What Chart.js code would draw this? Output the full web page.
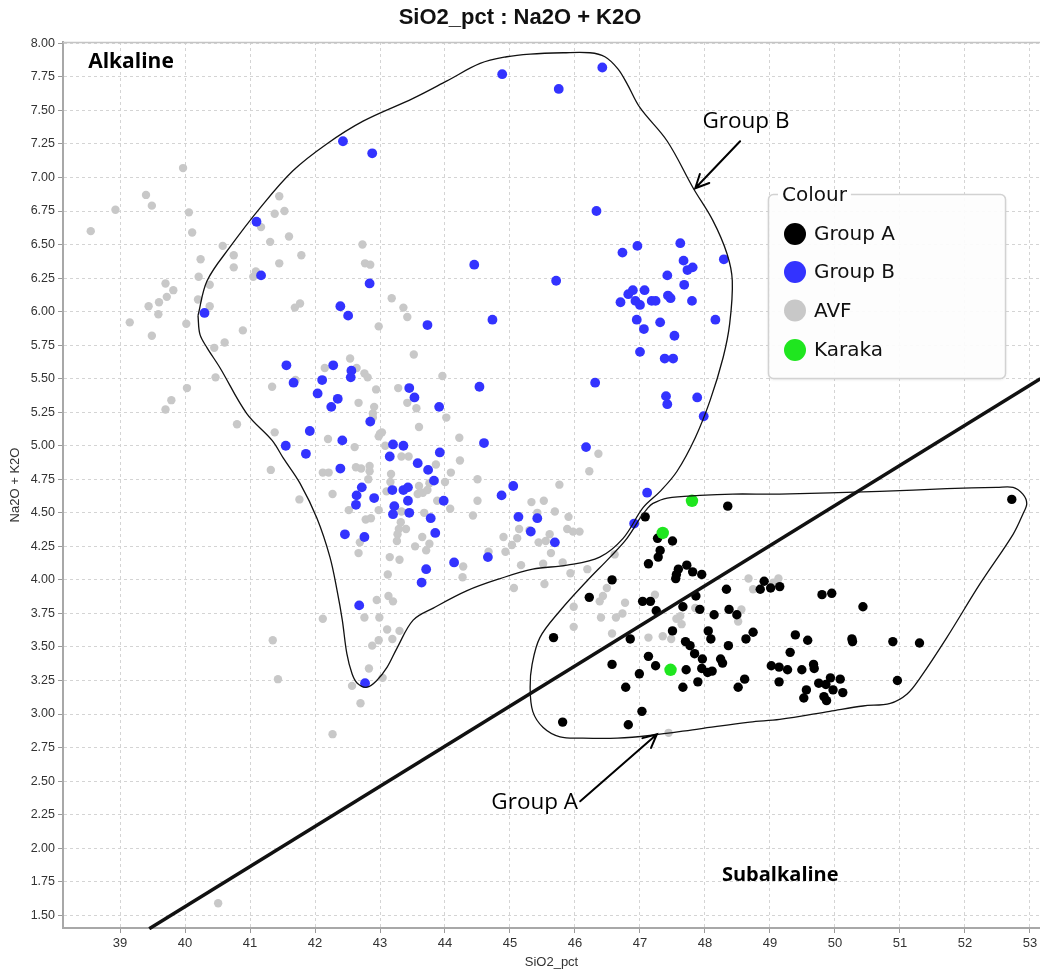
<!DOCTYPE html>
<html><head><meta charset="utf-8">
<script src="https://cdn.jsdelivr.net/npm/chart.js@4.4.1/dist/chart.umd.min.js"></script>
<style>html,body{margin:0;padding:0;background:#fff;}#wrap{width:1040px;height:971px;}</style>
</head><body><div id="wrap"><canvas id="c" width="1040" height="971"></canvas></div>
<script>
// ---- tick labels ----
const xTicks = [39,40,41,42,43,44,45,46,47,48,49,50,51,52,53];
const xTickLabels = ['39','40','41','42','43','44','45','46','47','48','49','50','51','52','53'];
const yTicks = [1.5,1.75,2,2.25,2.5,2.75,3,3.25,3.5,3.75,4,4.25,4.5,4.75,5,5.25,5.5,5.75,6,6.25,6.5,6.75,7,7.25,7.5,7.75,8];
const yTickLabels = ['1.50','1.75','2.00','2.25','2.50','2.75','3.00','3.25','3.50','3.75','4.00','4.25','4.50','4.75','5.00','5.25','5.50','5.75','6.00','6.25','6.50','6.75','7.00','7.25','7.50','7.75','8.00'];

// ---- series: [SiO2_pct, Na2O + K2O] ----
const groupA = [[48.35,4.55],[47.08,4.47],[47.27,4.31],[47.50,4.29],[47.31,4.22],[47.28,4.17],[47.13,4.12],[47.72,4.11],[47.59,4.08],[47.56,4.04],[47.55,4.01],[47.81,4.06],[47.95,4.04],[46.57,4.00],[48.33,3.93],[47.86,3.88],[46.22,3.87],[47.04,3.84],[47.16,3.84],[47.66,3.80],[47.25,3.77],[47.92,3.78],[48.14,3.74],[48.37,3.78],[48.49,3.74],[48.91,3.99],[48.85,3.93],[49.01,3.94],[49.15,3.95],[45.67,3.57],[46.85,3.56],[47.50,3.62],[48.05,3.62],[48.09,3.56],[47.70,3.54],[47.77,3.51],[47.84,3.45],[48.36,3.51],[48.63,3.56],[48.74,3.61],[49.39,3.59],[49.31,3.46],[47.13,3.43],[47.24,3.36],[46.57,3.37],[46.99,3.30],[47.71,3.33],[47.96,3.41],[47.95,3.34],[48.04,3.31],[48.11,3.32],[48.24,3.41],[48.27,3.38],[49.02,3.36],[49.14,3.35],[49.27,3.33],[49.14,3.24],[47.89,3.24],[47.66,3.20],[48.61,3.26],[48.51,3.20],[46.78,3.20],[47.03,3.02],[45.81,2.94],[46.82,2.92],[52.72,4.60],[49.80,3.89],[49.95,3.90],[50.43,3.80],[49.58,3.55],[50.26,3.56],[50.27,3.54],[50.89,3.54],[51.30,3.53],[49.49,3.33],[49.67,3.37],[49.68,3.34],[49.75,3.23],[49.86,3.22],[49.93,3.27],[50.08,3.26],[49.97,3.18],[50.12,3.16],[49.56,3.18],[49.52,3.12],[49.83,3.13],[49.87,3.10],[50.96,3.25]];

const groupB = [[44.88,7.77],[45.75,7.66],[46.42,7.82],[42.43,7.27],[42.88,7.18],[46.33,6.75],[44.45,6.35],[45.71,6.23],[46.96,6.49],[46.73,6.44],[47.62,6.51],[47.67,6.38],[47.73,6.31],[47.81,6.33],[48.29,6.39],[47.42,6.27],[47.68,6.20],[47.07,6.16],[46.89,6.16],[46.82,6.13],[46.70,6.07],[46.93,6.08],[47.00,6.05],[47.18,6.08],[47.24,6.08],[47.43,6.12],[47.47,6.10],[47.80,6.08],[46.95,5.94],[47.06,5.87],[47.31,5.92],[47.53,5.82],[48.16,5.94],[47.00,5.70],[47.38,5.65],[47.51,5.65],[46.31,5.47],[47.40,5.37],[47.42,5.31],[47.88,5.36],[47.98,5.22],[46.17,4.99],[47.11,4.65],[46.91,4.42],[41.10,6.67],[41.17,6.27],[40.30,5.99],[42.84,6.21],[42.39,6.04],[42.51,5.97],[41.56,5.60],[42.28,5.60],[42.56,5.56],[42.55,5.51],[42.11,5.49],[41.67,5.47],[42.04,5.39],[42.35,5.35],[42.25,5.29],[42.85,5.18],[41.92,5.11],[41.55,5.00],[42.42,5.04],[41.86,4.94],[43.20,5.01],[43.15,4.92],[43.73,5.90],[44.73,5.94],[43.45,5.43],[43.53,5.36],[43.91,5.29],[44.53,5.44],[43.36,5.00],[44.60,5.02],[43.92,4.95],[43.58,4.87],[43.74,4.82],[43.83,4.74],[42.39,4.83],[42.72,4.69],[42.64,4.63],[42.63,4.56],[42.91,4.61],[43.19,4.67],[43.36,4.67],[43.43,4.69],[43.43,4.59],[43.22,4.55],[43.20,4.49],[43.45,4.50],[43.98,4.59],[43.78,4.46],[43.85,4.35],[42.46,4.34],[42.76,4.32],[44.87,4.63],[45.05,4.70],[45.13,4.47],[45.42,4.46],[45.32,4.36],[45.69,4.28],[44.14,4.13],[44.66,4.17],[43.71,4.08],[43.64,3.98],[42.68,3.81],[42.77,3.23]];

const avf = [[38.55,6.60],[38.93,6.76],[39.97,7.07],[39.40,6.87],[39.49,6.79],[40.06,6.74],[40.11,6.59],[40.58,6.49],[40.24,6.39],[40.21,6.26],[40.38,6.20],[39.70,6.21],[39.82,6.16],[39.72,6.11],[39.60,6.07],[39.44,6.04],[39.59,5.98],[39.15,5.92],[39.49,5.82],[40.02,5.91],[40.20,6.09],[40.38,6.04],[40.75,6.42],[40.75,6.33],[41.09,6.30],[41.05,6.26],[41.17,6.63],[41.31,6.52],[41.38,6.73],[41.45,6.86],[41.53,6.75],[41.60,6.56],[41.45,6.36],[41.79,6.42],[40.89,5.86],[40.61,5.77],[40.45,5.73],[40.47,5.51],[40.03,5.43],[39.79,5.34],[39.70,5.27],[40.80,5.16],[41.69,6.03],[41.77,6.06],[42.98,5.89],[42.73,6.50],[42.77,6.36],[42.85,6.35],[43.18,6.10],[42.54,5.65],[42.15,5.58],[42.64,5.58],[42.76,5.54],[42.81,5.51],[41.70,5.49],[41.34,5.44],[42.67,5.32],[42.94,5.42],[42.91,5.29],[42.89,5.24],[43.00,5.09],[43.03,5.10],[41.38,5.10],[42.20,5.05],[42.61,4.99],[43.08,5.00],[43.28,5.43],
[43.36,6.03],[43.42,5.96],[43.52,5.68],[43.96,5.52],[43.42,5.32],[43.56,5.28],[44.02,5.21],[42.89,5.21],[43.60,5.14],[42.98,5.07],[44.22,5.06],[43.33,4.92],[43.44,4.92],[43.86,4.86],[44.23,4.89],[44.09,4.80],[44.50,4.75],[42.12,4.80],[42.21,4.80],[42.63,4.84],[42.71,4.83],[42.84,4.85],[42.84,4.81],[42.82,4.75],[43.17,4.79],[43.16,4.73],[43.60,4.70],[44.00,4.73],[43.76,4.72],[43.58,4.64],[43.66,4.65],[43.73,4.67],[42.27,4.64],[42.52,4.52],[42.78,4.45],[42.86,4.46],[42.98,4.52],[43.10,4.66],[43.33,4.51],[43.32,4.43],[43.29,4.38],[43.40,4.38],[43.27,4.34],[43.26,4.29],[43.68,4.50],[43.65,4.32],[43.76,4.27],[43.71,4.22],[43.54,4.25],[43.88,4.59],[44.08,4.53],[42.69,4.28],[42.67,4.20],[43.15,4.17],[43.30,4.15],[43.12,4.04],[43.13,3.88],[44.50,4.59],[44.43,4.48],[44.67,4.21],[44.90,4.32],[44.93,4.21],[45.03,4.26],[45.11,4.31],[45.14,4.38],[45.33,4.58],[45.52,4.59],[45.42,4.50],[45.30,4.37],[45.44,4.28],[45.55,4.29],[45.61,4.34],[45.63,4.20],[45.69,4.51],[45.76,4.71],[45.90,4.47],[45.88,4.38],[45.97,4.36],[46.07,4.36],[46.36,4.94],[46.22,4.81],[45.17,4.11],[45.51,4.12],[45.81,4.13],[45.06,3.94],[45.53,3.97],[45.93,4.05],[46.19,4.08],[46.49,3.94],[46.61,4.19],[44.28,4.10],[44.27,4.02],[42.95,3.85],
[41.32,4.82],[41.76,4.60],[43.20,3.84],[42.99,3.72],[42.76,3.72],[42.12,3.71],[41.35,3.55],[43.11,3.63],[42.98,3.55],[42.88,3.51],[43.30,3.62],[43.19,3.56],[42.83,3.34],[42.57,3.21],[43.04,3.27],[41.43,3.26],[42.70,3.08],[42.27,2.85],[45.98,3.80],[45.98,3.65],[46.38,3.84],[46.63,3.72],[46.57,3.60],[46.43,3.88],
[46.40,3.72],[46.73,3.75],[46.77,3.83],[47.23,3.89],[47.13,3.57],[47.35,3.58],[47.48,3.56],[47.64,3.67],[47.56,3.71],[47.62,3.73],[47.85,3.79],[48.56,3.78],[48.51,3.69],[48.67,4.01],[48.74,3.93],[49.05,3.98],[49.13,4.01],[47.44,2.86],[40.51,1.59]];

const karaka = [[47.80,4.59],[47.35,4.35],[47.47,3.33]];

// ---- outlines drawn on the diagram (data units) ----
const groupBHull = [[40.20,5.97],[40.34,6.23],[40.69,6.48],[41.15,6.77],[41.66,7.05],[42.18,7.25],[42.74,7.42],[43.51,7.59],[44.03,7.72],[44.54,7.85],[44.95,7.90],[45.31,7.92],[45.82,7.93],[46.23,7.93],[46.46,7.90],[46.66,7.81],[46.80,7.70],[47.00,7.52],[47.42,7.27],[47.82,6.92],[48.12,6.68],[48.34,6.43],[48.42,6.23],[48.38,5.91],[48.28,5.66],[48.08,5.34],[47.85,5.06],[47.57,4.81],[47.31,4.66],[47.05,4.54],[46.74,4.31],[46.38,4.17],[45.88,4.11],[45.35,4.08],[44.85,4.01],[44.34,3.92],[43.82,3.79],[43.51,3.70],[43.26,3.49],[43.11,3.35],[42.95,3.25],[42.80,3.20],[42.65,3.23],[42.57,3.30],[42.49,3.45],[42.42,3.70],[42.34,3.92],[42.23,4.17],[42.03,4.46],[41.77,4.72],[41.51,4.91],[41.34,5.04],[40.95,5.24],[40.54,5.58],[40.34,5.73],[40.23,5.83],[40.20,5.97]];
const groupAHull = [[47.00,4.46],[47.11,4.53],[47.20,4.57],[47.42,4.61],[47.92,4.63],[48.43,4.64],[49.15,4.64],[50.69,4.66],[51.72,4.68],[52.49,4.69],[52.74,4.69],[52.89,4.64],[52.95,4.57],[52.89,4.49],[52.74,4.34],[52.23,3.97],[51.72,3.57],[51.31,3.27],[51.11,3.15],[50.85,3.08],[50.43,3.06],[49.92,3.02],[49.15,2.96],[48.69,2.94],[47.92,2.89],[47.15,2.84],[46.65,2.82],[46.12,2.82],[45.77,2.83],[45.51,2.90],[45.35,3.02],[45.31,3.20],[45.34,3.37],[45.46,3.57],[45.77,3.77],[46.18,3.99],[46.54,4.17],[46.80,4.31],[47.00,4.46]];
const divideLine = [[39.45,1.40],[53.16,5.50]];

// annotation anchors (data units)
const textNotes = [
  {text:'Alkaline', x:38.51, y:7.86, font:'bold 21px "Open Sans"', align:'left'},
  {text:'Subalkaline', x:48.26, y:1.80, font:'bold 20px "Open Sans"', align:'left'},
  {text:'Group B', x:48.63, y:7.42, font:'22.5px "Open Sans"', align:'center'},
  {text:'Group A', x:45.38, y:2.34, font:'22.5px "Open Sans"', align:'center'}
];
const arrowNotes = [
  {from:[48.54,7.27], to:[47.85,6.92]},
  {from:[46.08,2.35], to:[47.26,2.85]}
];

const pts = a => a.map(([x,y]) => ({x, y}));

Chart.defaults.font.family = "'Liberation Sans', Arial, sans-serif";
Chart.defaults.color = '#333';

const notesPlugin = {
  id: 'notes',
  afterDatasetsDraw(chart) {
    const {ctx, chartArea, scales: {x, y}} = chart;
    ctx.save();
    ctx.strokeStyle = '#c4c4c4'; ctx.lineWidth = 1.5;
    ctx.beginPath(); ctx.moveTo(chartArea.left, chartArea.top + 0.5); ctx.lineTo(chartArea.right, chartArea.top + 0.5); ctx.stroke();
    ctx.fillStyle = '#000';
    ctx.textBaseline = 'middle';
    for (const t of textNotes) {
      ctx.font = t.font; ctx.textAlign = t.align;
      ctx.fillText(t.text, x.getPixelForValue(t.x), y.getPixelForValue(t.y));
    }
    ctx.strokeStyle = '#000'; ctx.lineWidth = 2; ctx.lineCap = 'round';
    for (const a of arrowNotes) {
      const x1 = x.getPixelForValue(a.from[0]), y1 = y.getPixelForValue(a.from[1]);
      const x2 = x.getPixelForValue(a.to[0]), y2 = y.getPixelForValue(a.to[1]);
      const ang = Math.atan2(y2 - y1, x2 - x1), L = 15, w = 0.45;
      ctx.beginPath(); ctx.moveTo(x1, y1); ctx.lineTo(x2, y2);
      ctx.moveTo(x2 - L * Math.cos(ang - w), y2 - L * Math.sin(ang - w)); ctx.lineTo(x2, y2);
      ctx.lineTo(x2 - L * Math.cos(ang + w), y2 - L * Math.sin(ang + w));
      ctx.stroke();
    }
    ctx.restore();
  },
  afterDraw(chart) {
    const {ctx} = chart;
    const items = chart.data.datasets.filter(d => d.inLegend);
    const order = ['Group A', 'Group B', 'AVF', 'Karaka'];
    items.sort((a, b) => order.indexOf(a.label) - order.indexOf(b.label));
    ctx.save();
    const bx = 768.5, by = 194.5, bw = 237, bh = 184;
    ctx.shadowColor = 'rgba(0,0,0,0.12)'; ctx.shadowBlur = 3; ctx.shadowOffsetY = 1;
    ctx.fillStyle = 'rgba(255,255,255,0.92)';
    ctx.beginPath(); ctx.roundRect(bx, by, bw, bh, 5); ctx.fill();
    ctx.shadowColor = 'transparent';
    ctx.strokeStyle = '#d2d2d2'; ctx.lineWidth = 1.5; ctx.stroke();
    ctx.font = '20px "DejaVu Sans"';
    ctx.textBaseline = 'middle'; ctx.textAlign = 'left';
    const tw = ctx.measureText('Colour').width;
    ctx.fillStyle = '#fff'; ctx.fillRect(778, by - 3, tw + 8, 8);
    ctx.fillStyle = '#111'; ctx.fillText('Colour', 782, 196);
    const ys = [234, 272, 310.5, 350];
    items.forEach((d, i) => {
      ctx.fillStyle = d.pointBackgroundColor;
      ctx.beginPath(); ctx.arc(795, ys[i], 11, 0, Math.PI * 2); ctx.fill();
      ctx.fillStyle = '#111';
      ctx.fillText(d.label, 814, ys[i] + 1);
    });
    ctx.restore();
  }
};

const lineDs = (label, data, width, tension) => ({
  label, data: pts(data), showLine: true, borderColor: '#111', borderWidth: width,
  pointRadius: 0, pointHoverRadius: 0, fill: false, tension, clip: 2
});
const ptDs = (label, data, color, r) => ({
  label, data: pts(data), pointBackgroundColor: color, backgroundColor: color,
  pointBorderWidth: 0, pointRadius: r, pointHoverRadius: r, showLine: false, inLegend: true
});

new Chart(document.getElementById('c'), {
  type: 'scatter',
  data: {
    datasets: [
      lineDs('Alkaline / Subalkaline', divideLine, 3.6, 0),
      lineDs('Group B outline', groupBHull, 1.3, 0.35),
      lineDs('Group A outline', groupAHull, 1.3, 0.35),
      ptDs('Karaka', karaka, '#1fe61f', 6.2),
      ptDs('Group A', groupA, '#000000', 4.7),
      ptDs('Group B', groupB, '#3333ff', 4.9),
      ptDs('AVF', avf, '#c8c8c8', 4.2)
    ]
  },
  options: {
    responsive: false, animation: false, events: [],
    layout: {padding: 0, autoPadding: false},
    plugins: {
      legend: {display: false},
      tooltip: {enabled: false},
      title: {display: true, text: 'SiO2_pct : Na2O + K2O', color: '#111',
        font: {size: 22, weight: 'bold'}, padding: {top: 5, bottom: 10.6}}
    },
    scales: {
      x: {
        type: 'linear', min: 38.123, max: 53.154,
        afterBuildTicks: s => { s.ticks = xTicks.map(v => ({value: v})); },
        afterFit: s => { s.height = 43; s.paddingLeft = 0; s.paddingRight = 0; },
        ticks: {callback: (v, i) => xTickLabels[i], font: {size: 13}, color: '#333', padding: 3, maxRotation: 0, autoSkip: false},
        grid: {color: '#d4d4d4', tickColor: '#9a9a9a', tickLength: 5, lineWidth: 1},
        border: {display: true, color: '#a8a8a8', width: 2, dash: [3, 3]},
        title: {display: true, text: 'SiO2_pct', font: {size: 13}, color: '#333', padding: {top: 0, bottom: 1}}
      },
      y: {
        type: 'linear', min: 1.405, max: 8.01,
        afterBuildTicks: s => { s.ticks = yTicks.map(v => ({value: v})); },
        afterFit: s => { s.width = 63; s.paddingTop = 0; s.paddingBottom = 0; },
        ticks: {callback: (v, i) => yTickLabels[i], font: {size: 12.5}, color: '#333', padding: 3, autoSkip: false},
        grid: {color: '#d4d4d4', tickColor: '#9a9a9a', tickLength: 5, lineWidth: 1},
        border: {display: true, color: '#a8a8a8', width: 2, dash: [3, 3]},
        title: {display: true, text: 'Na2O + K2O', font: {size: 13}, color: '#333', padding: {top: 8, bottom: 0}}
      }
    }
  },
  plugins: [notesPlugin]
});
</script></body></html>
